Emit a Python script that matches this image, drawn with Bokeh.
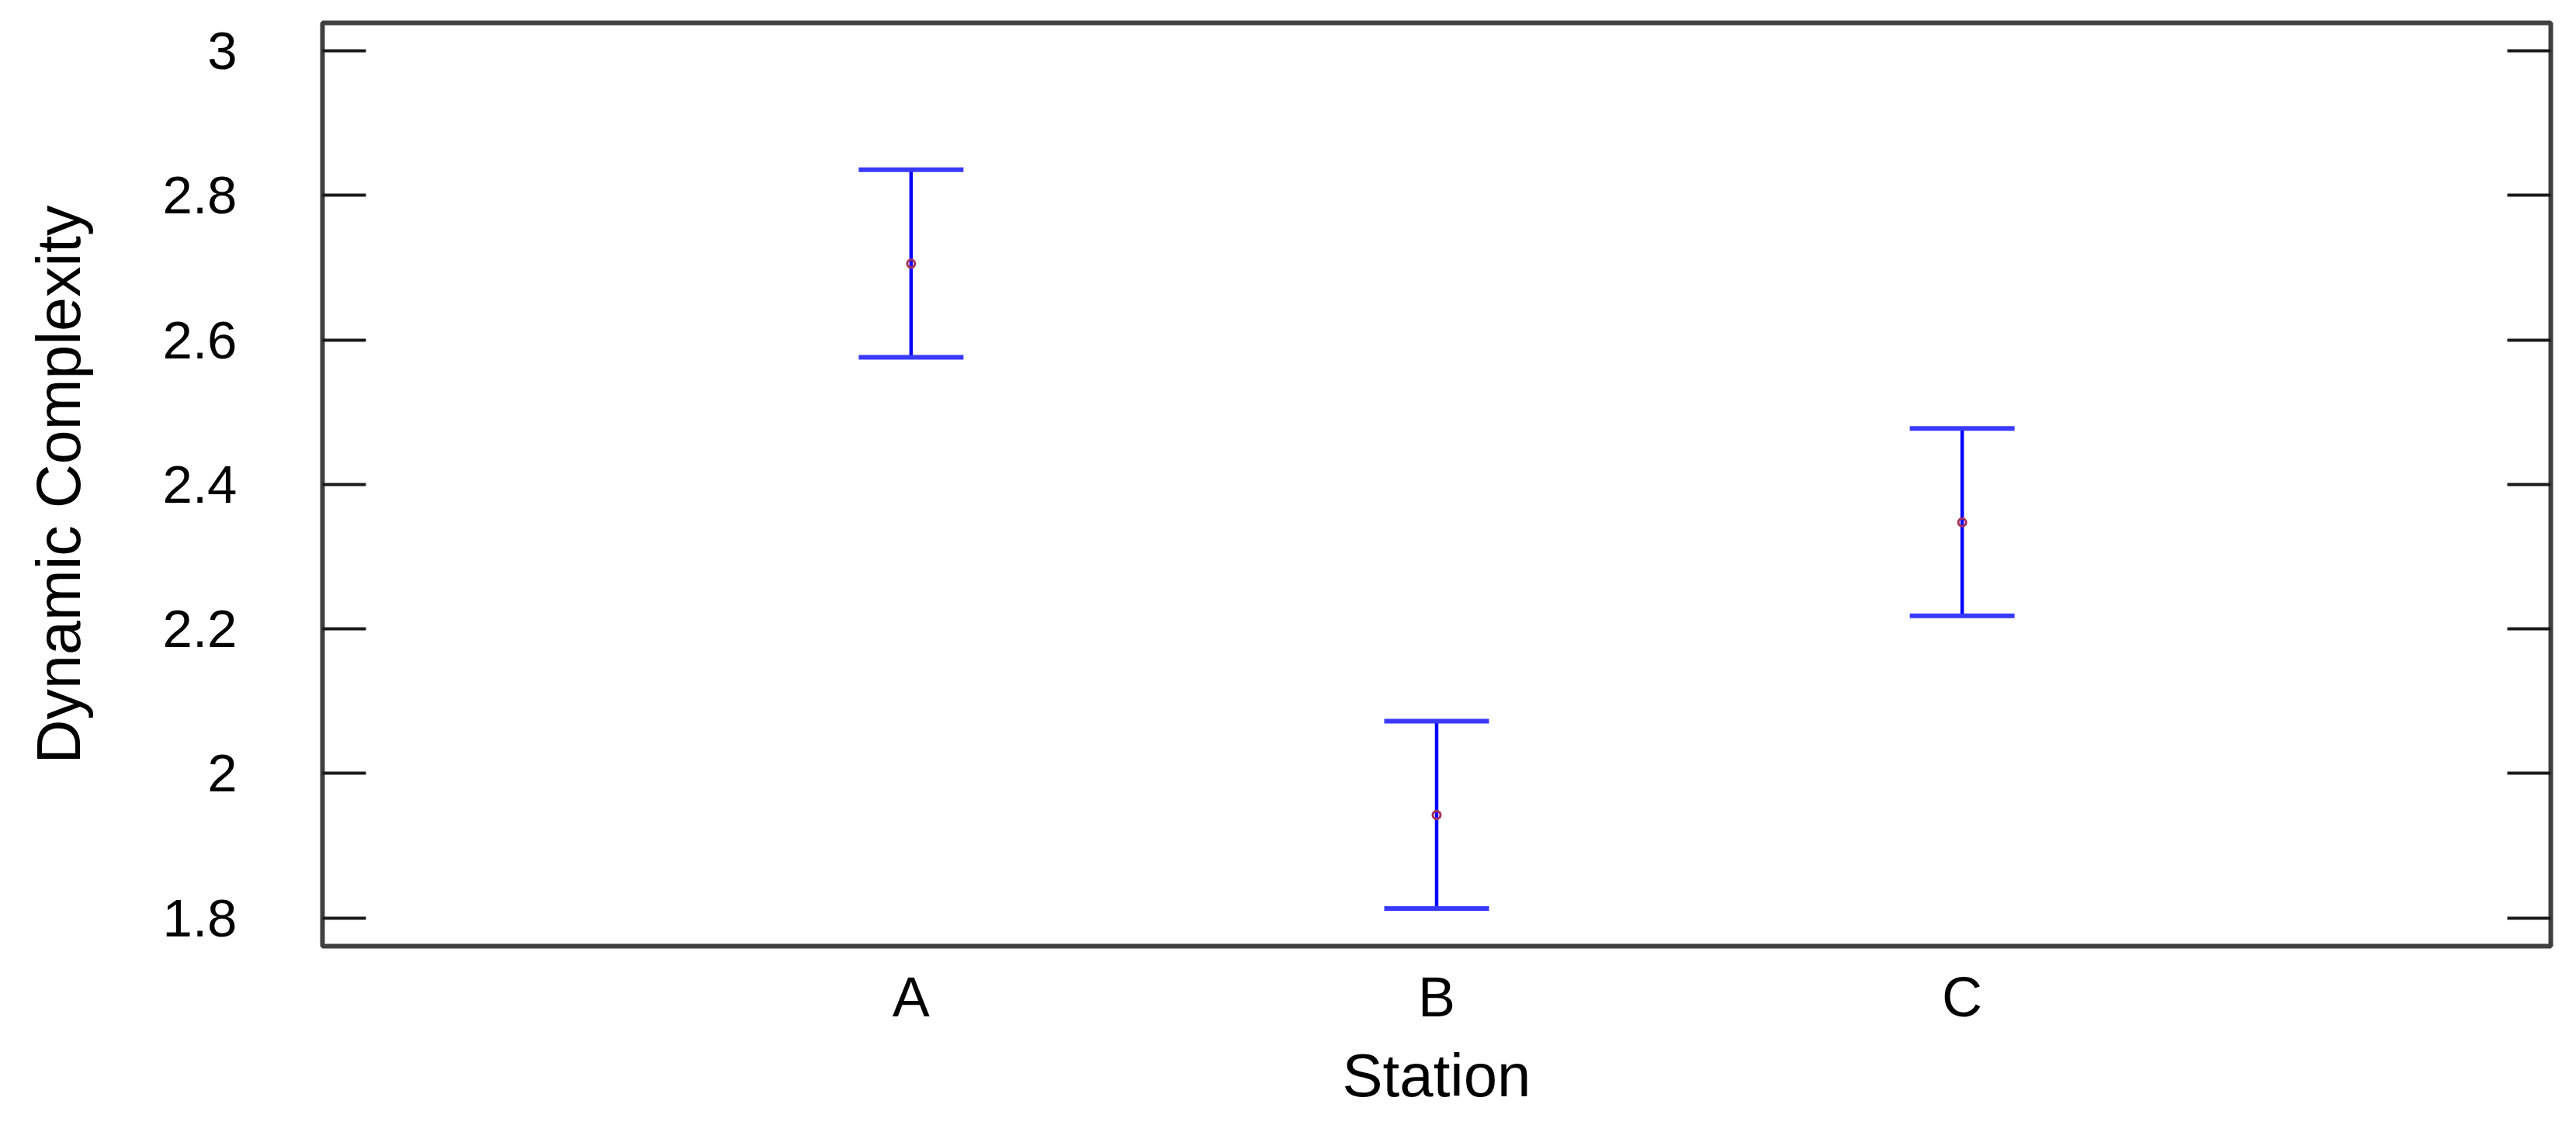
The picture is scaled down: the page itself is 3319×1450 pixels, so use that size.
from bokeh.plotting import figure
from bokeh.models import Range1d, FixedTicker, LinearAxis, Whisker, ColumnDataSource, TeeHead
from bokeh.embed import file_html
from bokeh.resources import INLINE

# ---- data ----
stations = ["A", "B", "C"]
means = [2.7055, 1.9425, 2.3475]
lower = [2.576, 1.813, 2.218]
upper = [2.8355, 2.0725, 2.4775]
y_ticks = [1.8, 2.0, 2.2, 2.4, 2.6, 2.8, 3.0]
y_tick_labels = ["1.8", "2", "2.2", "2.4", "2.6", "2.8", "3"]
x_title = "Station"
y_title = "Dynamic Complexity"

xpos = [i + 1 for i in range(len(stations))]
src = ColumnDataSource(dict(x=xpos, mean=means, lower=lower, upper=upper))

FONT = "Liberation Sans"
YTICK_FS = "69px"
XTICK_FS = "72px"
TITLE_FS = "78px"
W, H = 3303, 1434

p = figure(width=W, height=H, output_backend="svg", toolbar_location=None,
           x_range=Range1d(-0.12, 4.12), y_range=Range1d(1.761, 3.0387))
p.min_border_left = 415
p.min_border_right = 17
p.min_border_top = 29
p.min_border_bottom = 215
p.background_fill_color = "white"
p.border_fill_color = "white"
p.outline_line_color = "#404040"
p.outline_line_width = 6
p.xgrid.visible = False
p.ygrid.visible = False

# left axis
ya = p.yaxis[0]
ya.ticker = FixedTicker(ticks=y_ticks)
ya.major_label_overrides = {t: l for t, l in zip(y_ticks, y_tick_labels)}
ya.major_tick_in = 56
ya.major_tick_out = 0
ya.minor_tick_in = 0
ya.minor_tick_out = 0
ya.major_tick_line_color = "#1a1a1a"
ya.major_tick_line_width = 4
ya.axis_line_color = None
ya.major_label_standoff = 110
ya.major_label_text_font = FONT
ya.major_label_text_font_size = YTICK_FS
ya.major_label_text_color = "black"
ya.axis_label = y_title
ya.axis_label_text_font = FONT
ya.axis_label_text_font_size = "79px"
ya.axis_label_text_font_style = "normal"
ya.axis_label_text_color = "black"
ya.axis_label_standoff = 87

# right axis (ticks only)
ra = LinearAxis(ticker=FixedTicker(ticks=y_ticks))
ra.major_tick_in = 56
ra.major_tick_out = 0
ra.minor_tick_in = 0
ra.minor_tick_out = 0
ra.major_tick_line_color = "#1a1a1a"
ra.major_tick_line_width = 4
ra.axis_line_color = None
ra.major_label_text_font_size = "0px"
ra.major_label_text_color = None
ra.major_label_standoff = 0
p.add_layout(ra, "right")

# bottom axis
xa = p.xaxis[0]
xa.ticker = FixedTicker(ticks=xpos)
xa.major_label_overrides = {x: s for x, s in zip(xpos, stations)}
xa.major_tick_in = 0
xa.major_tick_out = 0
xa.minor_tick_in = 0
xa.minor_tick_out = 0
xa.axis_line_color = None
xa.major_label_standoff = 25
xa.major_label_text_font = FONT
xa.major_label_text_font_size = XTICK_FS
xa.major_label_text_color = "black"
xa.axis_label = x_title
xa.axis_label_text_font = FONT
xa.axis_label_text_font_size = TITLE_FS
xa.axis_label_text_font_style = "normal"
xa.axis_label_text_color = "black"
xa.axis_label_standoff = 14

# error bars
w = Whisker(source=src, base="x", lower="lower", upper="upper", dimension="height",
            line_color="#0000ff", line_width=4.5,
            lower_head=TeeHead(size=135, line_color="#3a3aff", line_width=6),
            upper_head=TeeHead(size=135, line_color="#3a3aff", line_width=6))
p.add_layout(w)

# means
p.scatter("x", "mean", source=src, size=10, marker="circle",
          fill_color=None, line_color="#a8305a", line_width=3)

open("out.html", "w").write(file_html(p, INLINE))
